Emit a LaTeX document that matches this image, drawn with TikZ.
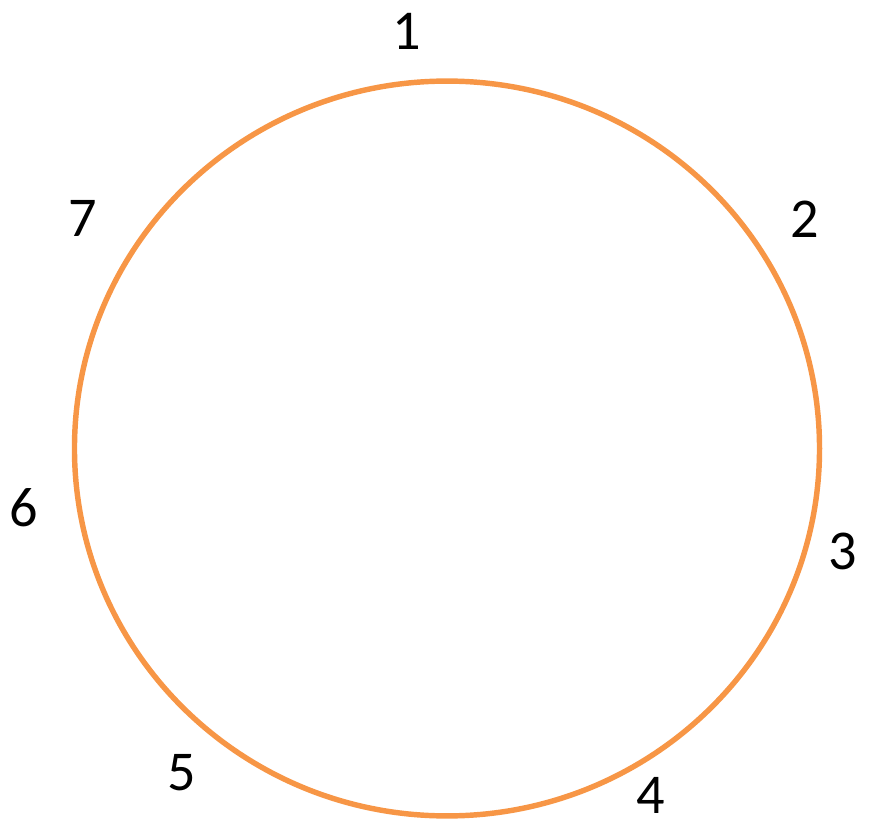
\documentclass[tikz,border=0pt]{standalone}
\usepackage{fontspec}
\setmainfont{Carlito}
\usepackage{xcolor}
\definecolor{ringorange}{RGB}{247,150,70}

\begin{document}
\begin{tikzpicture}[
    x=0.02cm, y=-0.02cm,
    ring/.style={draw=ringorange, line width=3.1pt},
    num/.style={font=\fontsize{32}{36}\selectfont, inner sep=0pt}
]
    \useasboundingbox (0,0) rectangle (870,821);
    \coordinate (C) at (447,448.5);
    \draw[ring] (C) ellipse [x radius=7.452cm, y radius=7.35cm];

    \node[num] (n1) at (407,31)  {1};
    \node[num] (n2) at (805,219) {2};
    \node[num] (n3) at (843,551) {3};
    \node[num] (n4) at (651,795) {4};
    \node[num] (n5) at (182,773) {5};
    \node[num] (n6) at (24,508)  {6};
    \node[num] (n7) at (83,218)  {7};
\end{tikzpicture}
\end{document}
